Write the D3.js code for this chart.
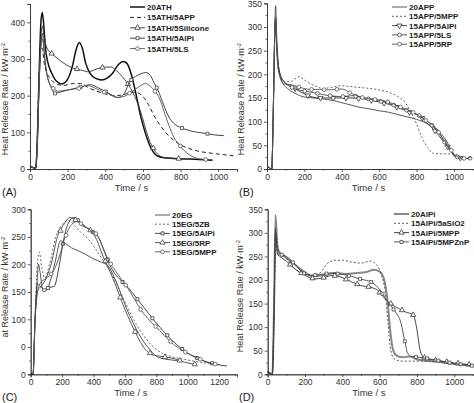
<!DOCTYPE html>
<html><head><meta charset="utf-8">
<script src="https://cdn.jsdelivr.net/npm/d3@7"></script>
<style>
html,body{margin:0;padding:0;background:#fff;}
svg{display:block;font-family:"Liberation Sans",Arial,sans-serif;}
</style></head>
<body><svg id="c" width="474" height="403"></svg>
<script>
// ---------- DATA (time s, HRR kW/m2) ----------
// Panel A
const a20ATH = [[0,8],[15,4],[30,2],[38,60],[48,250],[58,400],[65,427],[72,400],[82,330],[95,290],[115,262],[140,240],[170,232],[200,245],[225,280],[245,325],[262,345],[278,330],[295,290],[320,260],[350,247],[380,243],[410,248],[440,262],[470,285],[495,293],[515,288],[540,255],[565,200],[590,140],[615,95],[640,60],[665,40],[690,33],[750,29],[850,27],[970,24]];
const aAPP = [[0,8],[15,4],[30,2],[38,80],[48,250],[58,325],[65,330],[75,290],[90,262],[110,245],[140,232],[180,228],[230,233],[270,233],[310,222],[350,213],[400,205],[450,200],[500,203],[540,210],[570,208],[600,198],[630,175],[660,145],[690,120],[720,100],[760,80],[800,66],[850,55],[900,48],[950,44],[1000,41],[1050,38],[1100,35]];
const aSilicone = [[0,8],[15,4],[30,2],[38,60],[48,230],[58,360],[66,390],[75,360],[90,330],[115,315],[150,300],[190,285],[230,275],[270,270],[310,265],[350,272],[395,278],[430,278],[460,268],[490,252],[520,232],[550,205],[575,175],[597,141],[620,100],[645,65],[670,45],[713,31],[760,29],[800,28]];
const aAlPi = [[0,8],[15,4],[30,2],[38,60],[48,230],[58,340],[66,370],[75,320],[90,260],[110,225],[133,206],[160,210],[200,215],[240,220],[280,225],[320,230],[360,222],[400,212],[440,200],[470,195],[500,205],[531,240],[560,252],[590,260],[615,263],[640,255],[658,236],[680,215],[710,175],[740,140],[770,122],[796,114],[840,106],[890,100],[933,97],[980,93],[1030,91]];
const aLS = [[0,8],[15,4],[30,2],[38,60],[48,220],[58,330],[68,355],[78,300],[95,245],[124,220],[150,212],[190,215],[230,218],[265,220],[300,228],[340,222],[380,212],[420,205],[460,195],[500,198],[540,210],[580,225],[615,233],[634,228],[660,215],[690,190],[720,145],[745,110],[765,86],[790,68],[820,50],[860,35],[894,28],[930,26],[970,25]];
// Panel B
const b20APP = [[0,6],[15,2],[25,0],[35,150],[42,300],[46,345],[52,280],[62,215],[80,185],[110,170],[150,160],[200,152],[250,150],[300,148],[350,145],[400,140],[450,135],[500,130],[550,127],[600,123],[650,120],[700,115],[750,110],[800,105],[850,97],[900,85],[940,70],[970,52],[990,35],[1010,25],[1050,22],[1080,22]];
const bMPP = [[0,6],[15,2],[25,0],[35,140],[42,280],[46,305],[52,250],[65,200],[90,185],[130,185],[170,195],[210,185],[260,175],[300,170],[350,173],[400,176],[450,174],[500,172],[550,170],[600,167],[650,162],[700,153],[740,140],[770,120],[800,95],[830,65],[860,45],[890,33],[950,32],[1000,32],[1030,26],[1060,24]];
const bAlPi = [[0,6],[15,2],[25,0],[35,150],[42,295],[46,320],[52,265],[65,210],[90,185],[130,175],[170,165],[220,155],[280,150],[340,150],[400,150],[460,150],[520,148],[580,143],[640,138],[700,130],[760,120],[820,112],[860,95],[900,80],[940,60],[980,40],[1010,25],[1040,23]];
const bLS = [[0,6],[15,2],[25,0],[35,150],[42,290],[46,315],[52,260],[65,205],[90,185],[134,172],[197,165],[267,160],[329,155],[401,153],[460,155],[520,150],[580,145],[640,140],[700,132],[760,122],[819,112],[860,100],[895,88],[930,70],[960,50],[990,33],[1020,25],[1060,22],[1090,23]];
const bRP = [[0,6],[15,2],[25,0],[35,150],[42,300],[46,318],[52,255],[65,200],[90,180],[130,178],[180,172],[230,168],[280,168],[330,167],[400,169],[450,160],[500,152],[550,148],[605,146],[660,140],[720,130],[780,120],[820,110],[860,100],[900,88],[940,65],[975,45],[1000,32],[1030,24],[1060,22],[1090,25]];
// Panel C
const c20EG = [[0,0],[15,0],[25,80],[38,150],[50,200],[60,185],[80,150],[100,152],[130,175],[160,210],[190,243],[220,238],[260,230],[300,225],[350,218],[400,210],[450,204],[490,198],[530,178],[570,150],[610,120],[650,95],[700,68],[750,48],[800,33],[850,28],[900,26],[950,24]];
const cZB = [[0,0],[15,0],[28,110],[42,200],[55,222],[70,195],[90,175],[120,200],[160,250],[200,272],[240,280],[280,270],[320,258],[370,245],[420,225],[470,203],[520,180],[570,150],[620,120],[670,92],[720,70],[780,50],[840,38],[900,32],[960,28],[1020,25],[1080,22],[1150,20]];
const cAlPi = [[0,0],[15,0],[28,100],[42,165],[60,160],[90,155],[120,158],[150,160],[180,195],[210,245],[240,275],[275,285],[310,278],[350,268],[400,258],[440,245],[480,215],[520,190],[570,172],[620,158],[670,140],[720,122],[780,100],[840,80],[900,62],[960,47],[1020,35],[1080,27],[1140,21],[1200,17],[1250,15]];
const cRP = [[0,0],[15,0],[28,100],[40,150],[60,158],[90,170],[130,200],[170,250],[210,272],[250,285],[290,280],[330,270],[380,262],[420,245],[460,215],[500,190],[540,163],[580,132],[620,105],[660,80],[700,58],[740,42],[780,35],[820,33],[870,31],[920,28],[980,22],[1050,18]];
const cMPP = [[0,0],[15,0],[28,100],[45,150],[60,165],[100,175],[140,185],[180,212],[220,250],[260,272],[300,278],[340,270],[380,262],[420,255],[460,230],[500,205],[540,188],[580,172],[620,156],[660,137],[700,118],[760,97],[820,80],[880,62],[940,48],[1000,38],[1060,30],[1120,22],[1200,17]];
// Panel D
const d20AlPi = [[0,5],[15,2],[25,0],[33,120],[42,338],[52,270],[65,258],[90,250],[130,238],[180,222],[240,208],[300,210],[360,215],[420,213],[480,215],[530,217],[570,222],[600,218],[625,200],[643,154],[655,100],[670,55],[690,40],[720,36],[760,38],[800,32],[900,27],[1000,22],[1100,18]];
const dSiO2 = [[0,5],[15,2],[25,0],[33,100],[42,250],[50,288],[60,252],[80,255],[120,235],[180,215],[240,210],[280,215],[320,235],[360,242],[400,242],[450,238],[500,236],[550,240],[585,232],[610,210],[630,175],[645,110],[660,50],[680,32],[720,28],[800,28],[900,27],[1000,22],[1100,18]];
const dMPP = [[0,5],[15,2],[25,0],[33,110],[42,300],[52,255],[65,250],[100,240],[150,222],[200,210],[250,202],[300,205],[350,210],[400,205],[450,196],[500,188],[550,185],[590,178],[643,154],[700,140],[740,132],[780,126],[800,95],[815,55],[830,38],[850,33],[900,30],[1000,24],[1100,20]];
const dMPZnP = [[0,5],[15,2],[25,0],[33,115],[42,310],[52,262],[65,255],[100,250],[150,232],[200,212],[250,210],[300,213],[350,215],[400,212],[450,208],[478,204],[520,200],[560,195],[600,180],[643,154],[680,135],[715,108],[735,70],[750,45],[770,38],[840,35],[900,30],[1000,23],[1100,18]];

// tick labels
const ticksA_y = [0,100,200,300,400];
const ticksBD_y = [0,50,100,150,200,250,300,350];
const ticksC_y = [0,50,100,150,200,250,300];
const ticksC_ylabels = ["0","0","100","150","200","250","300"];
const ticksX1000 = [0,200,400,600,800,1000];
const ticksX1200 = [0,200,400,600,800,1000,1200];
const namesA = ["20ATH","15ATH/5APP","15ATH/5Silicone","15ATH/5AlPi","15ATH/5LS"];
const namesB = ["20APP","15APP/5MPP","15APP/5AlPi","15APP/5LS","15APP/5RP"];
const namesC = ["20EG","15EG/5ZB","15EG/5AlPi","15EG/5RP","15EG/5MPP"];
const namesD = ["20AlPi","15AlPi/5aSiO2","15AlPi/5MPP","15AlPi/5MPZnP"];

// ---------- DRAW ----------
const svg = d3.select("#c");
const FS = "8.5px";
const fmt = d3.format("d");

function markerPath(type){
  if(type==="circle") return d3.symbol().type(d3.symbolCircle).size(11)();
  if(type==="square") return d3.symbol().type(d3.symbolSquare).size(9)();
  if(type==="tri"||type==="tridown") return d3.symbol().type(d3.symbolTriangle).size(12)();
  return null;
}
function interp(data, t){
  const i = d3.bisector(d=>d[0]).right(data, t);
  if(i<=0) return data[0][1];
  if(i>=data.length) return data[data.length-1][1];
  const a=data[i-1], b=data[i];
  return a[1]+(b[1]-a[1])*(t-a[0])/(b[0]-a[0]);
}

function panel(cfg){
  const g = svg.append("g");
  const x = d3.scaleLinear().domain(cfg.xDom).range([cfg.x0, cfg.x1]);
  const y = d3.scaleLinear().domain(cfg.yDom).range([cfg.y0, cfg.y1]);

  const line = d3.line().x(d=>x(d[0])).y(d=>y(d[1])).curve(d3.curveMonotoneX);
  cfg.series.forEach((s)=>{
    g.append("path").attr("d", line(s.data)).attr("fill","none")
      .attr("stroke", s.color).attr("stroke-width", s.w)
      .attr("stroke-dasharray", s.dash||null).attr("stroke-linejoin","round");
    if(s.marker){
      const tEnd = s.data[s.data.length-1][0];
      const pts = d3.range(s.mStart, tEnd, cfg.mStep).map(t=>[t, interp(s.data,t)]);
      g.selectAll(null).data(pts).enter().append("path")
        .attr("d", markerPath(s.marker))
        .attr("transform", d=>`translate(${x(d[0])},${y(d[1])})${s.marker==="tridown"?" rotate(180)":""}`)
        .attr("fill","#fff").attr("stroke", s.color).attr("stroke-width",0.8);
    }
  });

  const yAx = d3.axisLeft(y).tickValues(cfg.yTicks).tickSize(3).tickPadding(2)
    .tickFormat((d,i)=> cfg.yLabels ? cfg.yLabels[i] : fmt(d));
  const yg = g.append("g").attr("transform",`translate(${cfg.x0},0)`).call(yAx);
  const yMin = g.append("g").attr("transform",`translate(${cfg.x0},0)`)
    .call(d3.axisLeft(y).tickValues(cfg.yMinor).tickSize(1.5).tickFormat(""));
  const xAx = d3.axisBottom(x).tickValues(cfg.xTicks).tickSize(3).tickPadding(2).tickFormat(fmt);
  const xg = g.append("g").attr("transform",`translate(0,${cfg.y0})`).call(xAx);
  const xMin = g.append("g").attr("transform",`translate(0,${cfg.y0})`)
    .call(d3.axisBottom(x).tickValues(cfg.xMinor).tickSize(1.5).tickFormat(""));
  [yg,yMin,xg,xMin].forEach(a=>{
    a.selectAll("path,line").attr("stroke","#333").attr("stroke-width",0.8);
    a.selectAll("text").attr("font-size",FS).attr("fill","#333").attr("font-family","'Liberation Sans',Arial,sans-serif");
  });

  g.append("text").attr("x",(cfg.x0+cfg.x1)/2+cfg.xtDx).attr("y",cfg.y0+22)
    .attr("text-anchor","middle").attr("font-size","9.5px").attr("fill","#333").text("Time / s");
  const yt = g.append("text").attr("transform",`translate(${cfg.ytX},${cfg.ytY}) rotate(-90)`)
    .attr("text-anchor","middle").attr("font-size","9px").attr("fill","#333");
  yt.append("tspan").text(cfg.yTitle);
  yt.append("tspan").attr("dy",-3).attr("font-size","6px").text("-2");
  g.append("text").attr("x",cfg.tagX).attr("y",cfg.y0+27).attr("font-size","11px").attr("fill","#222").text(cfg.tag);

  cfg.series.forEach((s,i)=>{
    const ly = cfg.legY + i*cfg.legDy;
    g.append("line").attr("x1",cfg.legX).attr("x2",cfg.legX+15).attr("y1",ly).attr("y2",ly)
      .attr("stroke",s.color).attr("stroke-width",s.w).attr("stroke-dasharray",s.dash||null);
    if(s.marker) g.append("path").attr("d",markerPath(s.marker))
      .attr("transform",`translate(${cfg.legX+7.5},${ly})${s.marker==="tridown"?" rotate(180)":""}`)
      .attr("fill","#fff").attr("stroke",s.color).attr("stroke-width",0.8);
    g.append("text").attr("x",cfg.legX+17).attr("y",ly+3).attr("font-size","8px")
      .attr("font-weight","bold").attr("fill","#222").text(s.name);
  });
}

panel({
  x0:30, x1:237, y0:169, y1:4, xDom:[0,1100], yDom:[0,450],
  xTicks:ticksX1000, xMinor:[100,300,500,700,900,1100], yTicks:ticksA_y, yMinor:[50,150,250,350],
  yTitle:"Heat Release Rate / kW·m", ytX:8, ytY:99, xtDx:-2, tag:"(A)", tagX:2,
  legX:130, legY:7, legDy:10.4, mStep:135,
  series:[
    {name:namesA[0], data:a20ATH, color:"#111", w:1.5},
    {name:namesA[1], data:aAPP, color:"#222", w:1, dash:"4,3"},
    {name:namesA[2], data:aSilicone, color:"#333", w:0.9, marker:"tri", mStart:115},
    {name:namesA[3], data:aAlPi, color:"#444", w:1, marker:"square", mStart:133},
    {name:namesA[4], data:aLS, color:"#555", w:0.9, marker:"circle", mStart:124}
  ]
});
panel({
  x0:267, x1:474, y0:169, y1:3.3, xDom:[0,1107], yDom:[0,350],
  xTicks:ticksX1000, xMinor:[100,300,500,700,900,1100], yTicks:ticksBD_y, yMinor:[25,75,125,175,225,275,325],
  yTitle:"Heat Release Rate / kW·m", ytX:244, ytY:99, xtDx:-2, tag:"(B)", tagX:239,
  legX:392, legY:7, legDy:9.3, mStep:68,
  series:[
    {name:namesB[0], data:b20APP, color:"#444", w:0.9},
    {name:namesB[1], data:bMPP, color:"#555", w:0.9, dash:"2,2"},
    {name:namesB[2], data:bAlPi, color:"#333", w:0.9, marker:"tridown", mStart:150},
    {name:namesB[3], data:bLS, color:"#444", w:0.9, marker:"circle", mStart:134},
    {name:namesB[4], data:bRP, color:"#555", w:0.9, marker:"circle", mStart:170}
  ]
});
panel({
  x0:30.7, x1:237, y0:374.3, y1:209.3, xDom:[0,1314], yDom:[0,300],
  xTicks:ticksX1200, xMinor:[100,300,500,700,900,1100,1300], yTicks:ticksC_y, yLabels:ticksC_ylabels, yMinor:[25,75,125,175,225,275],
  yTitle:"at Release Rate / kW·m", ytX:8, ytY:287, xtDx:-3, tag:"(C)", tagX:2,
  legX:155, legY:215, legDy:9.2, mStep:95,
  series:[
    {name:namesC[0], data:c20EG, color:"#444", w:0.9},
    {name:namesC[1], data:cZB, color:"#555", w:0.9, dash:"2,2"},
    {name:namesC[2], data:cAlPi, color:"#333", w:0.9, marker:"square", mStart:110},
    {name:namesC[3], data:cRP, color:"#444", w:0.9, marker:"tri", mStart:190},
    {name:namesC[4], data:cMPP, color:"#555", w:0.9, marker:"circle", mStart:130}
  ]
});
panel({
  x0:267.7, x1:474, y0:374.3, y1:209.3, xDom:[0,1106], yDom:[0,350],
  xTicks:ticksX1000, xMinor:[100,300,500,700,900,1100], yTicks:ticksBD_y, yMinor:[25,75,125,175,225,275,325],
  yTitle:"Heat Release Rate / kW·m", ytX:243, ytY:296, xtDx:-2, tag:"(D)", tagX:239,
  legX:394, legY:214, legDy:9.3, mStep:60,
  series:[
    {name:namesD[0], data:d20AlPi, color:"#888", w:2},
    {name:namesD[1], data:dSiO2, color:"#444", w:0.9, dash:"2,2"},
    {name:namesD[2], data:dMPP, color:"#333", w:0.9, marker:"tri", mStart:120},
    {name:namesD[3], data:dMPZnP, color:"#444", w:0.9, marker:"square", mStart:75}
  ]
});
</script></body></html>
